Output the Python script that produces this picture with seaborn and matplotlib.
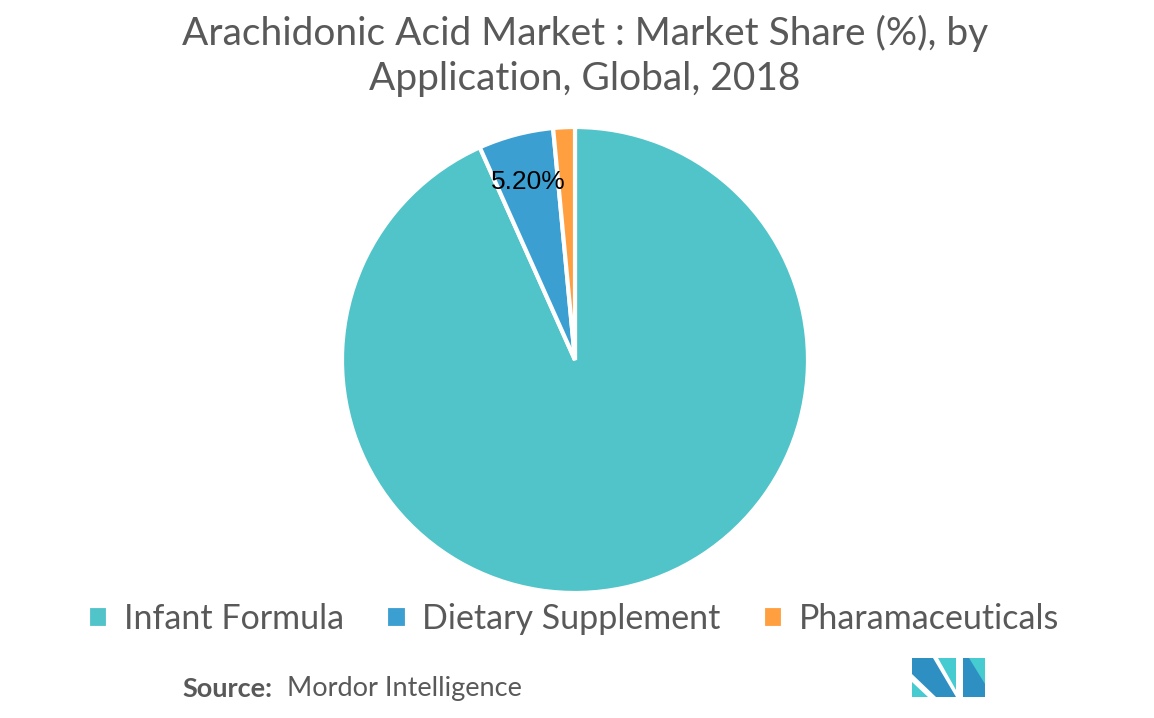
import matplotlib
matplotlib.use('Agg')
import matplotlib.pyplot as plt
import seaborn as sns
from matplotlib.patches import Polygon

sns.set_theme(style='white')
plt.rcParams['font.family'] = ['Lato', 'DejaVu Sans']

# Data
applications = ['Infant Formula', 'Dietary Supplement', 'Pharamaceuticals']
shares = [93.3, 5.2, 1.5]
colors = ['#50C4C8', '#3C9FD1', '#FF9F40']
title = 'Arachidonic Acid Market : Market Share (%), by\nApplication, Global, 2018'
text_gray = '#595959'

fig = plt.figure(figsize=(11.54, 7.18), dpi=100)
fig.patch.set_facecolor('white')

# pie axes: center (575, 360), radius ~232 px
cx, cy, r = 575, 360, 233
ax = fig.add_axes([(cx - r) / 1154, (718 - cy - r) / 718, 2 * r / 1154, 2 * r / 718])

wedges, texts, autotexts = ax.pie(
    shares, colors=colors, startangle=90, counterclock=False,
    autopct=lambda p: f'{p:.2f}%' if 4 < p < 10 else '',
    pctdistance=0.79,
    wedgeprops=dict(edgecolor='white', linewidth=3),
    textprops=dict(fontsize=19, color='black', family=['Liberation Sans']))
ax.set_xlim(-1.0, 1.0)
ax.set_ylim(-1.0, 1.0)
ax.set_aspect('equal')
ax.axis('off')

fig.text(0.507, 0.98, title, ha='center', va='top', fontsize=28,
         color=text_gray, linespacing=1.32)

leg = fig.legend(wedges, applications, loc='center', bbox_to_anchor=(0.497, 0.138),
                 ncol=3, frameon=False, fontsize=24.5, handlelength=0.6, handleheight=0.6,
                 handletextpad=0.45, columnspacing=1.25, labelcolor=text_gray)

fig.text(0.158, 0.041, 'Source:', fontsize=19.5, fontweight='bold', color=text_gray,
         ha='left', va='center')
fig.text(0.249, 0.041, 'Mordor Intelligence', fontsize=19.5, color=text_gray,
         ha='left', va='center')

# logo
def px(x, y):
    return (x / 1154, 1 - y / 718)

logo = [
    ([(912, 658), (933, 658), (956, 697), (936, 697), (912, 674)], '#2E8FC2'),
    ([(912, 682), (912, 697), (928, 697)], '#46CBD0'),
    ([(938, 658), (956, 658), (956, 690)], '#46CBD0'),
    ([(963, 658), (985, 658), (985, 697), (963, 697)], '#2E8FC2'),
    ([(963, 658), (969, 658), (985, 684), (985, 658)], '#46CBD0'),
]
for pts, c in logo:
    fig.patches.append(Polygon([px(*p) for p in pts], closed=True, transform=fig.transFigure,
                               facecolor=c, edgecolor='none', figure=fig))

fig.savefig('out.png', dpi=100, facecolor='white')
